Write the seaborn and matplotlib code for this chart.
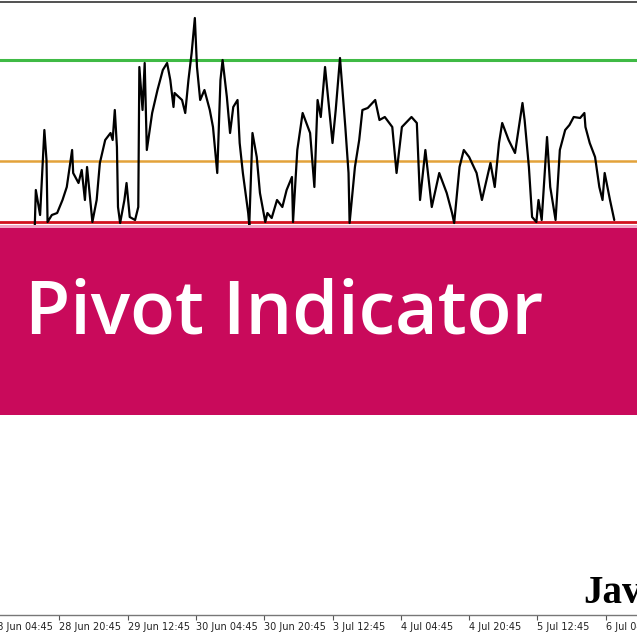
import matplotlib
matplotlib.use("Agg")
import matplotlib.pyplot as plt
import seaborn as sns
import pandas as pd

# ---- data (bar index on M15 chart, price height in chart units) ----
bars = [41, 42, 46, 50, 52, 53, 57, 62, 67, 71, 76, 77, 82, 85, 88, 90, 95, 99, 102, 107,
        112, 114, 116, 118, 119, 121, 125, 127, 130, 135, 138, 139, 142, 144, 146, 151, 156, 161, 165, 168,
        171, 172, 179, 182, 185, 188, 191, 193, 196, 200, 205, 208, 212, 215, 217, 221, 224, 227, 231, 233,
        236, 241, 242, 245, 249, 252, 257, 259, 263, 268, 273, 277, 282, 283, 287, 292, 299, 303, 306, 309,
        313, 320, 323, 327, 332, 335, 336, 341, 345, 348, 353, 360, 364, 369, 376, 380, 385, 394, 399, 402,
        407, 413, 420, 427, 432, 434, 439, 443, 448, 455, 460, 468, 472, 476, 479, 485, 491, 498, 500, 504,
        507, 511, 513, 516, 521, 524, 529, 533, 538, 542, 546, 552, 556, 557, 561, 566, 570, 573, 575, 580,
        584]
price = [388, 425, 400, 485, 455, 393, 400, 402, 415, 428, 465, 442, 432, 445, 415, 448, 393, 415, 452, 475,
         482, 475, 505, 468, 408, 392, 415, 432, 398, 395, 408, 548, 505, 552, 465, 502, 525, 545, 552, 535,
         508, 522, 515, 502, 535, 562, 597, 548, 515, 525, 505, 488, 442, 535, 555, 518, 482, 508, 515, 472,
         442, 402, 390, 482, 458, 422, 393, 402, 397, 415, 408, 425, 438, 393, 465, 502, 482, 428, 515, 498,
         548, 472, 505, 557, 488, 442, 392, 448, 475, 505, 507, 515, 495, 498, 488, 442, 488, 498, 492, 415,
         465, 408, 442, 422, 402, 392, 448, 465, 458, 442, 415, 452, 428, 472, 492, 475, 462, 512, 495, 448,
         398, 393, 415, 395, 478, 428, 395, 465, 485, 490, 498, 497, 502, 488, 472, 458, 428, 415, 442, 415,
         395]

resistance = 555
pivot = 454
support = 393

tick_bars = [0, 64, 128, 192, 256, 320, 384, 448, 512, 576]
tick_labels = ["28 Jun 04:45", "28 Jun 20:45", "29 Jun 12:45", "30 Jun 04:45", "30 Jun 20:45",
               "3 Jul 12:45", "4 Jul 04:45", "4 Jul 20:45", "5 Jul 12:45", "6 Jul 04:45"]

title = "Pivot Indicator"
watermark = "Java"

# ---- plot ----
sns.set_style("white")
plt.rcParams['font.family'] = ['DejaVu Sans']

fig = plt.figure(figsize=(6.37, 6.37), dpi=100)
ax = fig.add_axes([-9 / 637, 22 / 637, 646 / 637, 613 / 637])

df = pd.DataFrame({"bar": bars, "price": price})

ax.axhline(resistance, color="#3fba45", lw=2.2, zorder=2)
ax.axhline(pivot, color="#e3a23a", lw=1.8, zorder=2)
ax.axhline(support, color="#d2121e", lw=2.0, zorder=2)

sns.lineplot(data=df, x="bar", y="price", color="black", lw=1.6, ax=ax, zorder=3)

# banner
ax.axhspan(387, 390.5, color="#f2a6c6", lw=0, zorder=4)
ax.axhspan(200, 387, color="#c90a5b", lw=0, zorder=5)
fig.text(25 / 637, 1 - 315 / 637, title, color="white", fontsize=53, fontweight="semibold",
         family="Open Sans", ha="left", va="center", zorder=10)

fig.text(583 / 637, 1 - 603 / 637, watermark, color="black", fontsize=28, fontweight="bold",
         family="Liberation Serif", ha="left", va="baseline", zorder=10)

ax.set_xticks(tick_bars)
ax.set_xticklabels(tick_labels, fontsize=7, color="#222222")
for lab in ax.get_xticklabels():
    lab.set_horizontalalignment("left")
ax.set_xlim(0, 605.3)
ax.set_ylim(0, 613)
ax.set_yticks([])
ax.set_xlabel("")
ax.set_ylabel("")
ax.tick_params(axis="x", direction="out", length=3.5, width=0.8, color="#555555", pad=1.5, bottom=True)
for s in ["left", "right"]:
    ax.spines[s].set_visible(False)
ax.spines["top"].set_color("#333333")
ax.spines["top"].set_linewidth(1.2)
ax.spines["bottom"].set_color("#777777")
ax.spines["bottom"].set_linewidth(1.0)

fig.savefig("out.png", dpi=100)
